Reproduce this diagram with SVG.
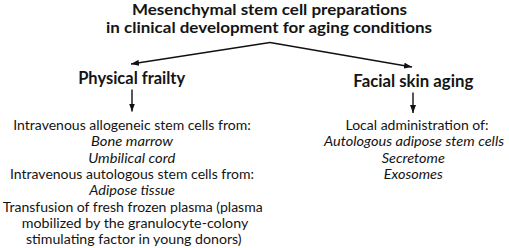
<svg xmlns="http://www.w3.org/2000/svg" width="509" height="248" viewBox="0 0 509 248">
<style>
text{font-family:Lato,"Open Sans","Liberation Sans",sans-serif;fill:#141414;text-anchor:middle}
.t{font-size:14.3px;font-weight:bold}
.h{font-size:16.5px;font-weight:bold}
.b{font-size:13.5px}
.i{font-style:italic}
.c{stroke:#111;stroke-width:1.4;fill:none}
</style>
<defs>
<marker id="ah" markerUnits="userSpaceOnUse" markerWidth="8" markerHeight="6" refX="8" refY="3" orient="auto">
<path d="M0,0 L8,3 L0,6 z" fill="#111"/>
</marker>
</defs>
<rect width="509" height="248" fill="#fff"/>
<g id="title">
<text class="t" x="269.5" y="15" textLength="275" lengthAdjust="spacingAndGlyphs">Mesenchymal stem cell preparations</text>
<text class="t" x="269" y="33.3" textLength="326" lengthAdjust="spacingAndGlyphs">in clinical development for aging conditions</text>
</g>
<g id="frailty">
<text class="h" x="131.7" y="84" textLength="107" lengthAdjust="spacingAndGlyphs">Physical frailty</text>
</g>
<g id="skin">
<text class="h" x="413.3" y="86.5" textLength="120" lengthAdjust="spacingAndGlyphs">Facial skin aging</text>
</g>
<g id="frailty-treatments">
<text class="b" x="132" y="130" textLength="237.4" lengthAdjust="spacingAndGlyphs">Intravenous allogeneic stem cells from:</text>
<text class="b i" x="132" y="146.4" textLength="82" lengthAdjust="spacingAndGlyphs">Bone marrow</text>
<text class="b i" x="131.7" y="162.7" textLength="87" lengthAdjust="spacingAndGlyphs">Umbilical cord</text>
<text class="b" x="132" y="179" textLength="244" lengthAdjust="spacingAndGlyphs">Intravenous autologous stem cells from:</text>
<text class="b i" x="132.2" y="195.3" textLength="85.7" lengthAdjust="spacingAndGlyphs">Adipose tissue</text>
<text class="b" x="132.7" y="211.6" textLength="260" lengthAdjust="spacingAndGlyphs">Transfusion of fresh frozen plasma (plasma</text>
<text class="b" x="135" y="227.9" textLength="226.6" lengthAdjust="spacingAndGlyphs">mobilized by the granulocyte-colony</text>
<text class="b" x="133.8" y="244.2" textLength="215.7" lengthAdjust="spacingAndGlyphs">stimulating factor in young donors)</text>
</g>
<g id="skin-treatments">
<text class="b" x="417" y="129.5" textLength="143" lengthAdjust="spacingAndGlyphs">Local administration of:</text>
<text class="b i" x="414" y="146" textLength="180" lengthAdjust="spacingAndGlyphs">Autologous adipose stem cells</text>
<text class="b i" x="413.3" y="162.5" textLength="63" lengthAdjust="spacingAndGlyphs">Secretome</text>
<text class="b i" x="413.3" y="179" textLength="59" lengthAdjust="spacingAndGlyphs">Exosomes</text>
</g>
<g id="connectors">
<line class="c" x1="270" y1="42.5" x2="131" y2="64" marker-end="url(#ah)"/>
<line class="c" x1="270" y1="42.5" x2="412" y2="67" marker-end="url(#ah)"/>
<line class="c" x1="132" y1="89.5" x2="132" y2="111.5" marker-end="url(#ah)"/>
<line class="c" x1="413" y1="92.5" x2="413" y2="113" marker-end="url(#ah)"/>
</g>
</svg>
